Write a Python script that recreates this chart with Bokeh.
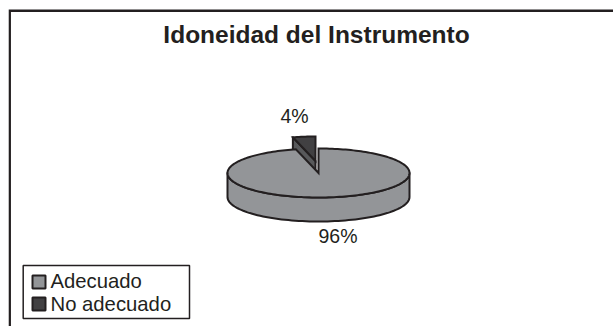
import numpy as np
from bokeh.embed import file_html
from bokeh.resources import INLINE
from bokeh.plotting import figure
from bokeh.models import Range1d, Label

TITLE = "Idoneidad del Instrumento"
CATEGORIES = ["Adecuado", "No adecuado"]
SHARES = [96, 4]
SHARE_LABELS = ["96%", "4%"]
COLORS = ["#939598", "#414042"]
WALL_DARK = "#58595b"
INK = "#231f20"
FONT = "Liberation Sans"

W, H = 605, 318
OX, OY = 8, 8   # page offset of the figure

# geometry in page pixels (y down)
CX, CY, RX, RY, DEPTH = 318 - OX, 172.5 - OY, 91, 24.5, 24
EXPLODE = (-3, -12)

p = figure(width=W, height=H, x_range=Range1d(0, W), y_range=Range1d(H, 0),
           output_backend="svg", toolbar_location=None, min_border=0,
           outline_line_color=None, background_fill_color="white",
           border_fill_color="white")
p.axis.visible = False
p.grid.visible = False
p.styles = {"position": "absolute", "left": "8px", "top": "8px"}

def ell(a, cx=CX, cy=CY):
    a = np.radians(a)
    return cx + RX * np.sin(a), cy - RY * np.cos(a)

# frame (top and left rules only)
p.line([1.2, 1.2, W], [H, 2.3, 2.3], line_color=INK, line_width=2.5, line_join="miter")

frac = np.array(SHARES) / sum(SHARES) * 360
end_grey = frac[0]

# exploded slice: inner wall, then top face
cx2, cy2 = CX + EXPLODE[0], CY + EXPLODE[1]
a2 = np.linspace(end_grey, 360, 12)
ax, ay = ell(a2, cx2, cy2)
lx, ly = ell(end_grey, cx2, cy2)
p.patch([lx, cx2, cx2, lx], [ly, cy2, cy2 + DEPTH, ly + DEPTH],
        fill_color=WALL_DARK, line_color=INK, line_width=2, line_join="round")
p.patch([cx2, *ax], [cy2, *ay], fill_color=COLORS[1], line_color=INK,
        line_width=2, line_join="miter")

# front side wall of the big slice
a = np.linspace(90, 270, 80)
sx, sy = ell(a)
p.patch([*sx, *sx[::-1]], [*sy, *(sy[::-1] + DEPTH)], fill_color=COLORS[0],
        line_color=INK, line_width=2, line_join="round")

# top face of the big slice
a1 = np.linspace(0, end_grey, 200)
tx, ty = ell(a1)
p.patch([CX, *tx], [CY, *ty], fill_color=COLORS[0], line_color=INK,
        line_width=2, line_join="miter")

def label(text, x, y, size, bold=False, align="left"):
    # y is the wanted baseline; Label sits about 0.36em lower on this reversed range
    p.add_layout(Label(x=x - OX, y=y - OY - 0.36 * size, text=text, text_font=FONT,
                       text_font_size=f"{size}px", text_color=INK, text_align=align,
                       text_baseline="alphabetic",
                       text_font_style="bold" if bold else "normal"))

label(TITLE, 316, 43, 24.5, bold=True, align="center")
label(SHARE_LABELS[1], 280, 122.5, 19.5)
label(SHARE_LABELS[0], 318, 243, 19.5)

# legend box
p.quad(left=[22.7 - OX], right=[189 - OX], top=[265 - OY], bottom=[318 - OY],
       fill_color="white", line_color=INK, line_width=1.5)
for name, color, top, base in zip(CATEGORIES, COLORS, [275, 297], [287.5, 310.5]):
    p.quad(left=[32 - OX], right=[45 - OX], top=[top - OY], bottom=[top + 13 - OY],
           fill_color=color, line_color=INK, line_width=2)
    label(name, 50, base, 20.3)

open("out.html", "w").write(file_html(p, INLINE))
